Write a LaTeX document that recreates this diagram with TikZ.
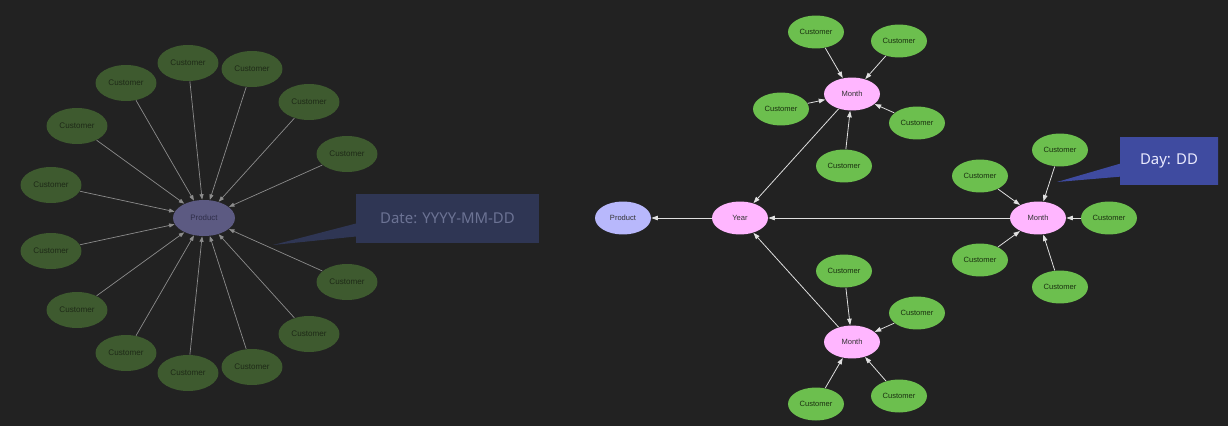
\documentclass[tikz,border=0pt]{standalone}
\usepackage{fontspec}
\setmainfont{Liberation Sans}
\newfontfamily\calloutfont{Noto Sans}
\usetikzlibrary{shapes.geometric,shapes.callouts,arrows.meta}

\definecolor{bgcol}{HTML}{222222}
\definecolor{dimgreen}{HTML}{3E5A2F}
\definecolor{dimtext}{HTML}{1E2A17}
\definecolor{dimprod}{HTML}{5C5A82}
\definecolor{dimprodtext}{HTML}{2E2D48}
\definecolor{dimedge}{HTML}{8C8C8C}
\definecolor{datefill}{HTML}{2F3654}
\definecolor{datetext}{HTML}{6C7394}
\definecolor{dayfill}{HTML}{3F4BA0}
\definecolor{custgreen}{HTML}{6CBF4E}
\definecolor{custtext}{HTML}{1A3010}
\definecolor{monthpink}{HTML}{FFB6FF}
\definecolor{prodblue}{HTML}{B8B8FC}

\begin{document}
\begin{tikzpicture}[x=0.02cm,y=-0.02cm,
    every node/.style={ellipse,inner sep=0pt},
    dimcust/.style={fill=dimgreen,text=dimtext,minimum width=1.22cm,minimum height=0.72cm,
      font=\fontsize{4.6}{5}\selectfont},
    dimprodnode/.style={fill=dimprod,text=dimprodtext,minimum width=1.24cm,minimum height=0.72cm,
      font=\fontsize{4.5}{5}\selectfont},
    dimarrow/.style={draw=dimedge,line width=0.4pt,-{Triangle[length=0.11cm,width=0.08cm]}},
    cust/.style={fill=custgreen,text=custtext,minimum width=1.12cm,minimum height=0.66cm,
      font=\fontsize{4.3}{5}\selectfont},
    month/.style={fill=monthpink,text=black!80,minimum width=1.12cm,minimum height=0.66cm,
      font=\fontsize{4.3}{5}\selectfont},
    prod/.style={fill=prodblue,text=black!80,minimum width=1.12cm,minimum height=0.66cm,
      font=\fontsize{4.3}{5}\selectfont},
    arrow/.style={draw=white!88!black,line width=0.45pt,-{Triangle[length=0.13cm,width=0.09cm]}},
    callout/.style={rectangle callout,callout pointer width=0.26cm,
      font=\calloutfont\fontsize{8.5}{10}\selectfont},
  ]
  \useasboundingbox[fill=bgcol] (0,0) rectangle (1228,426);

  % denormalised: one product, every customer
  \node[dimprodnode] (lprod) at (204,218) {Product};
  \foreach \px/\py [count=\i] in {188/63,252/69,126/83,309/102,77/126,347/154,51/185,
      51/251,347/282,77/310,309/334,126/353,252/367,188/373} {
    \node[dimcust] (lc\i) at (\px,\py) {Customer};
    \draw[dimarrow] (lc\i) -- (lprod);
  }
  \node[callout,fill=datefill,text=datetext,minimum width=3.66cm,minimum height=0.98cm,
    callout absolute pointer={(273,245)}] (datebox) at (447.5,218.5) {Date: YYYY-MM-DD};

  % hierarchy: product <- year <- month <- customer
  \node[prod] (rprod) at (623,218) {Product};
  \node[month] (year) at (740,218) {Year};
  \node[month] (mtop) at (852,94) {Month};
  \node[month] (mright) at (1038,218) {Month};
  \node[month] (mbot) at (852,342) {Month};
  \draw[arrow] (year) -- (rprod);
  \foreach \m in {mtop,mright,mbot}
    \draw[arrow] (\m) -- (year);

  \foreach \px/\py [count=\i] in {816/32,899/41,781/109,917/123,844/166} {
    \node[cust] (ct\i) at (\px,\py) {Customer};
    \draw[arrow] (ct\i) -- (mtop);
  }
  \foreach \px/\py [count=\i] in {1060/150,980/176,1109/218,980/260,1060/287} {
    \node[cust] (cr\i) at (\px,\py) {Customer};
    \draw[arrow] (cr\i) -- (mright);
  }
  \foreach \px/\py [count=\i] in {844/271,917/313,816/404,899/396} {
    \node[cust] (cb\i) at (\px,\py) {Customer};
    \draw[arrow] (cb\i) -- (mbot);
  }
  \node[callout,fill=dayfill,text=white!92!blue,minimum width=1.96cm,minimum height=0.96cm,
    callout absolute pointer={(1057,182)}] (daybox) at (1169,161) {Day: DD};
\end{tikzpicture}
\end{document}
